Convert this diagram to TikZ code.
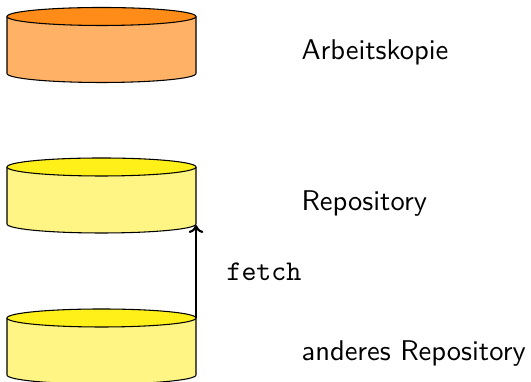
\documentclass[tikz,border=0pt]{standalone}
\usetikzlibrary{arrows.meta}
\definecolor{orangetop}{RGB}{255,139,24}
\definecolor{orangebody}{RGB}{255,178,102}
\definecolor{yellowtop}{RGB}{255,240,26}
\definecolor{yellowbody}{RGB}{255,245,133}
\tikzset{
  x=0.375pt,y=-0.375pt,
  lbl/.style={inner sep=0pt,anchor=base west,font=\fontsize{10.7}{13}\selectfont\sffamily},
  cmd/.style={inner sep=0pt,anchor=base west,font=\fontsize{10.7}{13}\selectfont\ttfamily},
  edge/.style={line width=0.4pt,draw=black},
  flow/.style={line width=0.8pt,draw=black,-{To[length=3pt,width=5.5pt]}},
  pics/drum/.style n args={2}{code={
    \fill[#1] (-94.5,0) -- (-94.5,57) arc[x radius=94.5,y radius=9,start angle=180,end angle=0] -- (94.5,0) -- cycle;
    \draw[edge] (-94.5,0) -- (-94.5,57) arc[x radius=94.5,y radius=9,start angle=180,end angle=0] -- (94.5,0);
    \draw[edge,fill=#2] (0,0) ellipse[x radius=94.5,y radius=9];
  }}
}
\begin{document}
\begin{tikzpicture}
\useasboundingbox (0,0) rectangle (531,382);
\begin{scope}
\clip (0,0) rectangle (531,382);
\pic at (101.5,16.5) {drum={orangebody}{orangetop}};
\pic at (101.5,167) {drum={yellowbody}{yellowtop}};
\pic at (101.5,318) {drum={yellowbody}{yellowtop}};
\end{scope}
\coordinate (src) at (196,318);
\coordinate (dst) at (196,225);
\draw[flow] (src) -- (dst);
\node[lbl] (work) at (301,60) {Arbeitskopie};
\node[lbl] (repo) at (301,210.5) {Repository};
\node[lbl] (other) at (301,361) {anderes Repository};
\node[cmd] (fetch) at (226,281) {fetch};
\end{tikzpicture}
\end{document}
